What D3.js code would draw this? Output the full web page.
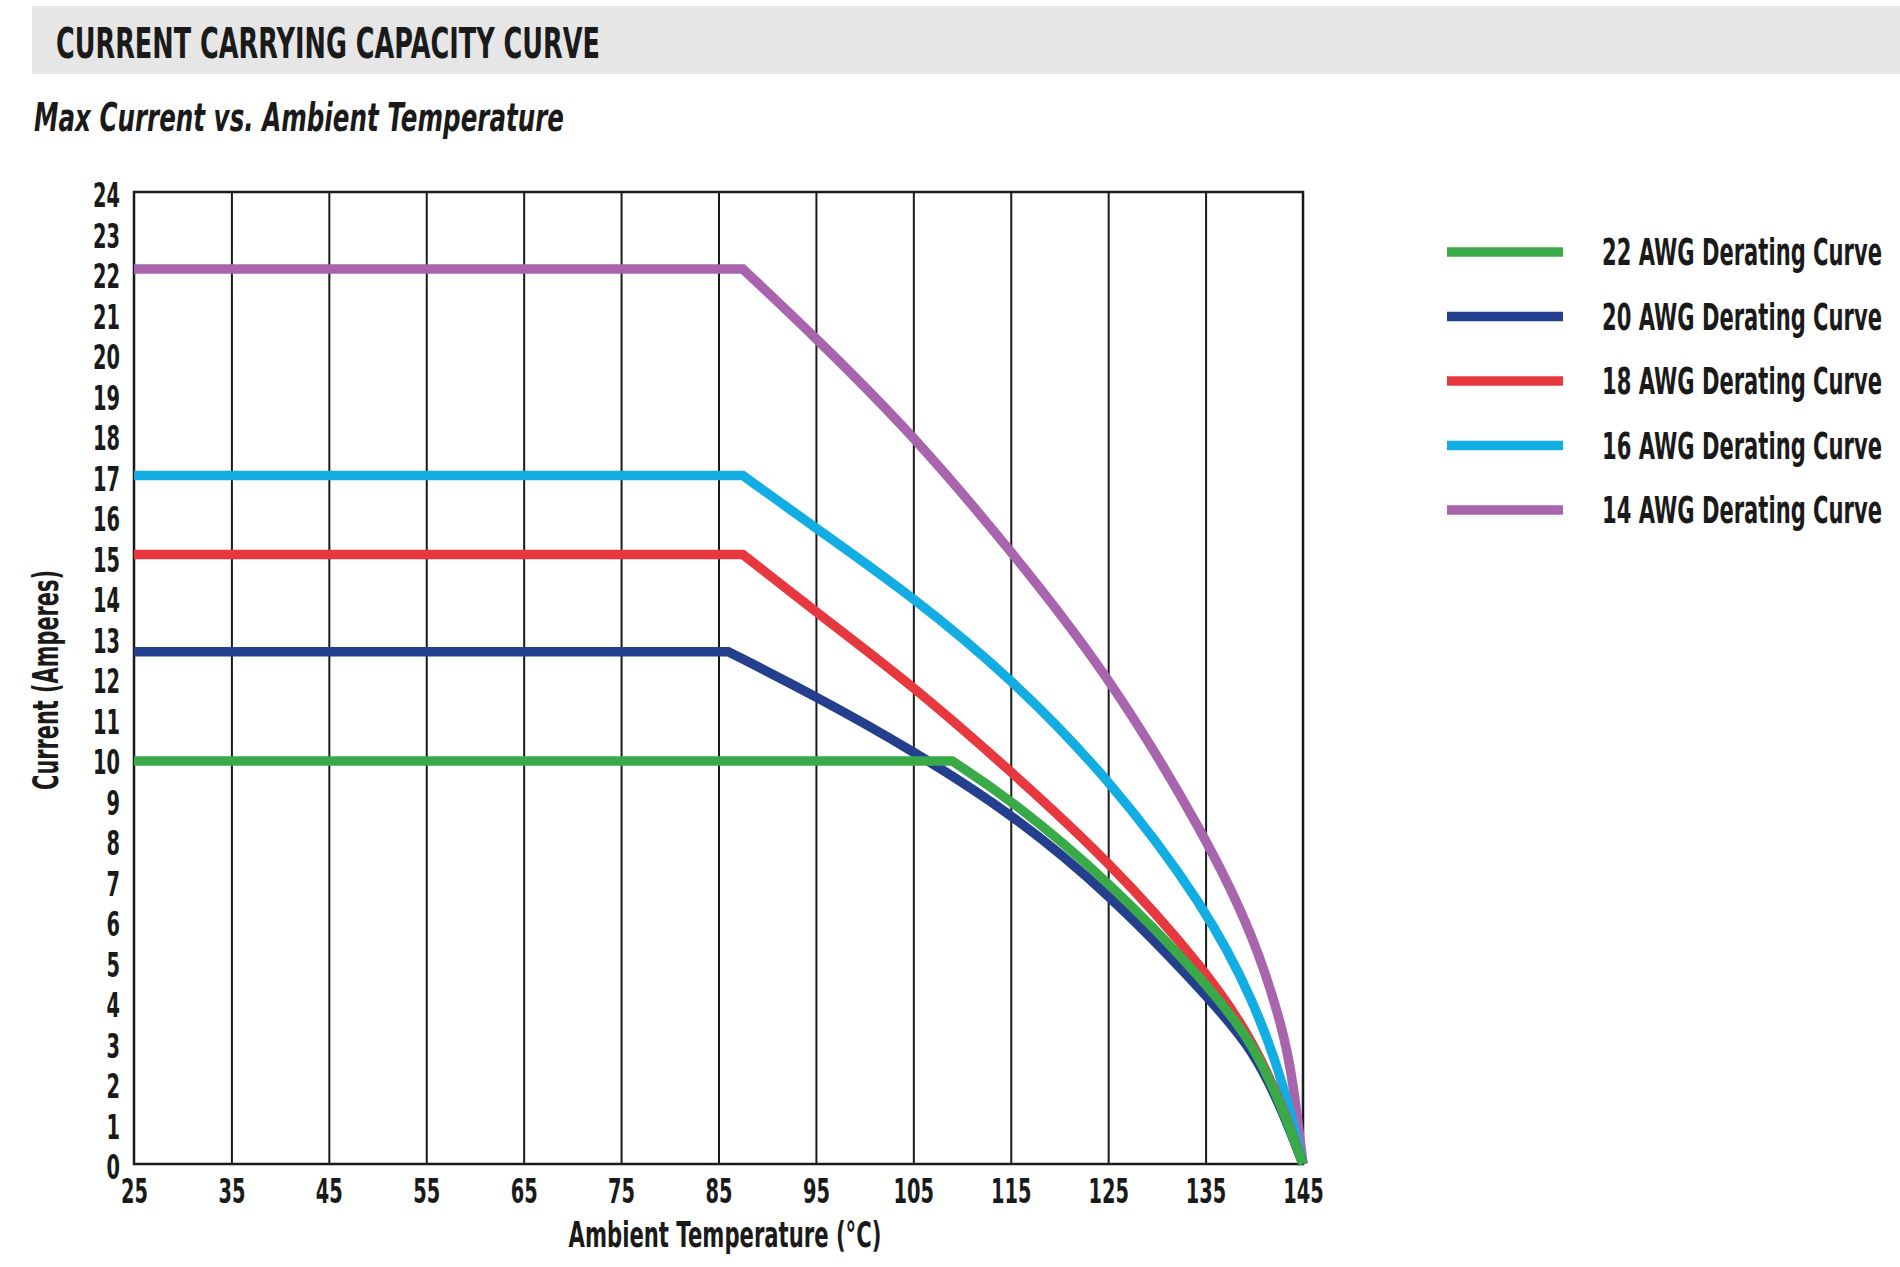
<!DOCTYPE html>
<html>
<head>
<meta charset="utf-8">
<script src="https://cdn.jsdelivr.net/npm/d3@7"></script>
<style>
body { margin: 0; background: #fff; }
text { font-family: "DejaVu Sans", sans-serif; fill: #1a1a1a; }
</style>
</head>
<body>
<script>

// ---- data ----
const yTicks = d3.range(0, 25);
const xTicks = [25, 35, 45, 55, 65, 75, 85, 95, 105, 115, 125, 135, 145];

const awg14Temp = [25, 87.5, 95, 105, 115, 125, 135, 140, 143, 144, 145];
const awg14Amps = [22.1, 22.1, 20.4, 18.0, 15.15, 12.1, 8.1, 5.6, 3.3, 2.0, 0];

const awg16Temp = [25, 87.5, 95, 105, 115, 125, 135, 140, 143, 145];
const awg16Amps = [17.0, 17.0, 15.7, 14.0, 12.0, 9.55, 6.35, 4.0, 2.0, 0];

const awg18Temp = [25, 87.5, 95, 105, 115, 125, 135, 140, 143, 145];
const awg18Amps = [15.05, 15.05, 13.63, 11.8, 9.7, 7.5, 4.8, 3.0, 1.35, 0];

const awg20Temp = [25, 86, 95, 105, 115, 125, 135, 140, 143, 145];
const awg20Amps = [12.65, 12.65, 11.55, 10.2, 8.67, 6.7, 4.2, 2.8, 1.25, 0];

const awg22Temp = [25, 109, 115, 125, 135, 140, 143, 145];
const awg22Amps = [9.95, 9.95, 9.0, 7.0, 4.5, 2.95, 1.3, 0];

const seriesNames = ["22 AWG Derating Curve", "20 AWG Derating Curve", "18 AWG Derating Curve",
                     "16 AWG Derating Curve", "14 AWG Derating Curve"];
const seriesColors = ["#3aaa48", "#233f8e", "#e8383f", "#12ade3", "#a865ad"];
const seriesTemps = [awg22Temp, awg20Temp, awg18Temp, awg16Temp, awg14Temp];
const seriesAmps = [awg22Amps, awg20Amps, awg18Amps, awg16Amps, awg14Amps];

// ---- layout ----
const W = 1900, H = 1267;
const plot = {left: 134, top: 192, right: 1303, bottom: 1164};

const svg = d3.select("body").append("svg")
    .attr("width", W)
    .attr("height", H);

// the reference face is a tall condensed one, so squeeze text sideways
function squeezeTo(sel, target) {
    let sx = 1;
    sel.each(function() {
        const w = this.getComputedTextLength();
        if (w > 0) sx = Math.min(sx, target / w);
    });
    return sx;
}

// header band
svg.append("rect")
    .attr("x", 32).attr("y", 6)
    .attr("width", W - 32).attr("height", 68)
    .attr("fill", "#e6e6e7");

svg.append("text")
    .attr("x", 56).attr("y", 58)
    .attr("font-size", 42)
    .attr("font-weight", "bold")
    .attr("textLength", 544)
    .attr("lengthAdjust", "spacingAndGlyphs")
    .text("CURRENT CARRYING CAPACITY CURVE");

svg.append("text")
    .attr("x", 34).attr("y", 131)
    .attr("font-size", 39)
    .attr("font-weight", "bold")
    .attr("font-style", "italic")
    .attr("textLength", 530)
    .attr("lengthAdjust", "spacingAndGlyphs")
    .text("Max Current vs. Ambient Temperature");

const xScale = d3.scaleLinear().domain([25, 145]).range([plot.left, plot.right]);
const yScale = d3.scaleLinear().domain([0, 24]).range([plot.bottom, plot.top]);

// vertical grid lines
svg.append("g")
    .attr("transform", "translate(0," + plot.bottom + ")")
    .call(d3.axisBottom(xScale).tickValues(xTicks.slice(1, -1)).tickSize(-(plot.bottom - plot.top)).tickFormat(""))
    .call(g => g.select(".domain").remove())
    .call(g => g.selectAll("line").attr("stroke", "#1a1a1a").attr("stroke-width", 2));

// x tick labels
const xAxisG = svg.append("g")
    .attr("transform", "translate(0," + plot.bottom + ")")
    .call(d3.axisBottom(xScale).tickValues(xTicks).tickSize(0).tickPadding(0))
    .call(g => g.select(".domain").remove());
xAxisG.selectAll("text")
    .attr("font-size", 33)
    .attr("font-weight", "bold")
    .attr("y", 0)
    .attr("dy", 39);

// y tick labels
const yAxisG = svg.append("g")
    .attr("transform", "translate(" + (plot.left - 14) + ",0)")
    .call(d3.axisLeft(yScale).tickValues(yTicks).tickSize(0).tickPadding(0))
    .call(g => g.select(".domain").remove());
yAxisG.selectAll("text")
    .attr("font-size", 33)
    .attr("font-weight", "bold")
    .attr("dy", "0.45em");

svg.selectAll(".tick text").attr("fill", "#1a1a1a").attr("font-family", null);

// two-digit labels are ~27px wide in the reference
const tickSx = squeezeTo(yAxisG.selectAll("text").filter(d => d >= 10), 27);
svg.selectAll(".tick text").attr("transform", "scale(" + tickSx + ",1)");

// plot frame
svg.append("rect")
    .attr("x", plot.left).attr("y", plot.top)
    .attr("width", plot.right - plot.left)
    .attr("height", plot.bottom - plot.top)
    .attr("fill", "none")
    .attr("stroke", "#1a1a1a")
    .attr("stroke-width", 2.5);

// curves: flat part straight, fall-off smoothed
const smooth = d3.line()
    .x(d => d[0])
    .y(d => d[1])
    .curve(d3.curveBasis);

function curvePath(temps, amps) {
    const pts = temps.map((t, i) => [xScale(t), yScale(amps[i])]);
    const tail = smooth(pts.slice(1));
    return "M" + pts[0][0] + "," + pts[0][1] + "L" + tail.slice(1);
}

const drawOrder = [4, 3, 2, 1, 0];
svg.append("g").selectAll("path")
    .data(drawOrder)
    .enter()
    .append("path")
    .attr("d", i => curvePath(seriesTemps[i], seriesAmps[i]))
    .attr("fill", "none")
    .attr("stroke", i => seriesColors[i])
    .attr("stroke-width", 9.5)
    .attr("stroke-linejoin", "miter");

// axis titles
const xTitle = svg.append("text")
    .attr("font-size", 35)
    .attr("font-weight", "bold")
    .attr("text-anchor", "middle")
    .text("Ambient Temperature (°C)");
xTitle.attr("transform", "translate(725,1247) scale(" + squeezeTo(xTitle, 313) + ",1)");

const yTitle = svg.append("text")
    .attr("font-size", 35)
    .attr("font-weight", "bold")
    .attr("text-anchor", "middle")
    .text("Current (Amperes)");
yTitle.attr("transform", "translate(58,680) rotate(-90) scale(" + squeezeTo(yTitle, 220) + ",1)");

// legend
const legend = svg.append("g").selectAll("g")
    .data(seriesNames)
    .enter()
    .append("g")
    .attr("transform", (d, i) => "translate(1447," + (252 + i * 64.5) + ")");

legend.append("line")
    .attr("x1", 0).attr("x2", 116)
    .attr("stroke", (d, i) => seriesColors[i])
    .attr("stroke-width", 9.5);

const legendText = legend.append("text")
    .attr("dy", "0.36em")
    .attr("font-size", 37)
    .attr("font-weight", "bold")
    .text(d => d);

const legendSx = squeezeTo(legendText, 280);
legendText.attr("transform", "translate(155,0) scale(" + legendSx + ",1)");

</script>
</body>
</html>
